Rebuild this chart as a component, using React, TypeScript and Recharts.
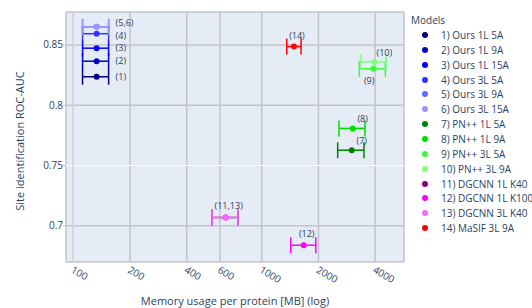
import React from 'react';
import { ScatterChart, Scatter, XAxis, YAxis, CartesianGrid, ErrorBar, ReferenceLine, Legend } from 'recharts';

const models = [
  '1) Ours 1L 5A', '2) Ours 1L 9A', '3) Ours 1L 15A', '4) Ours 3L 5A', '5) Ours 3L 9A',
  '6) Ours 3L 15A', '7) PN++ 1L 5A', '8) PN++ 1L 9A', '9) PN++ 3L 5A', '10) PN++ 3L 9A',
  '11) DGCNN 1L K40', '12) DGCNN 1L K100', '13) DGCNN 3L K40', '14) MaSIF 3L 9A',
];
const colors = [
  '#000080', '#0000c0', '#0000ff', '#3333ff', '#6666ff', '#9999ff', '#008000',
  '#00dd00', '#33ff33', '#80ff80', '#800080', '#ff00ff', '#ff66ff', '#ff0000',
];
// memory per protein [MB]: mean, lower, upper
const memory = [133, 133, 133, 133, 133, 133, 3005, 3040, 3905, 3960, 644, 1671, 644, 1483];
const memLow = [112, 112, 112, 112, 112, 112, 2530, 2570, 3297, 3350, 545, 1426, 545, 1358];
const memHigh = [154, 154, 154, 154, 154, 154, 3490, 3530, 4530, 4575, 748, 1936, 748, 1618];
const auc = [0.8236, 0.8365, 0.8473, 0.8593, 0.865, 0.865, 0.7627, 0.7808, 0.8302, 0.8359, 0.7069, 0.6839, 0.7069, 0.8486];
const labels = ['(1)', '(2)', '(3)', '(4)', '', '(5,6)', '(7)', '(8)', '(9)', '(10)', '', '(12)', '(11,13)', '(14)'];
const labelPlace = ['right', 'right', 'right', 'rightdown', 'rightup', 'rightup', 'topright', 'topright', 'bottom', 'topright', 'top', 'top', 'top', 'top'];

const xTicks = [100, 200, 400, 600, 800, 1000, 2000, 4000];
const yTicks = [0.7, 0.75, 0.8, 0.85];

const FONT = '"Open Sans", verdana, arial, sans-serif';
const INK = '#2a3f5f';

const rows = models.map((m, i) => ({
  name: m,
  x: memory[i],
  y: auc[i],
  err: [memory[i] - memLow[i], memHigh[i] - memory[i]],
  label: labels[i],
  place: labelPlace[i],
}));

const Marker = (props: any) => {
  const { cx, cy, fill, payload } = props;
  let tx = cx, ty = cy + 3.2, anchor = 'middle';
  if (payload.place === 'right') { tx = cx + 19; anchor = 'start'; }
  if (payload.place === 'rightup') { tx = cx + 19; ty = cy - 0.5; anchor = 'start'; }
  if (payload.place === 'rightdown') { tx = cx + 19; ty = cy + 5.5; anchor = 'start'; }
  if (payload.place === 'top') { tx = cx + 3; ty = cy - 8; }
  if (payload.place === 'topright') { tx = cx + 10; ty = cy - 6; }
  if (payload.place === 'bottom') { tx = cx - 4; ty = cy + 15; }
  return (
    <g>
      <circle cx={cx} cy={cy} r={3} fill={fill} />
      {payload.label && (
        <text x={tx} y={ty} textAnchor={anchor} fontSize={9} fontFamily={FONT} fill={INK}>{payload.label}</text>
      )}
    </g>
  );
};

const XTick = ({ x, y, payload }: any) => (
  <text x={x - 3} y={y + 10} transform={`rotate(30 ${x - 3} ${y + 10})`} textAnchor="start" fontSize={10} fontFamily={FONT} fill={INK}>
    {payload.value}
  </text>
);

const LegendBox = () => (
  <div style={{ position: 'relative', width: 127, height: 240, fontFamily: FONT, fontSize: 10, color: INK, whiteSpace: 'nowrap', overflow: 'hidden' }}>
    <div style={{ position: 'absolute', left: 6, top: 13, lineHeight: '14px' }}>Models</div>
    {models.map((m, i) => (
      <div key={m} style={{ position: 'absolute', left: 0, top: 28 + i * 14.86, height: 14, lineHeight: '14px' }}>
        <span style={{ position: 'absolute', left: 17, top: 4, width: 6, height: 6, borderRadius: 3, background: colors[i] }} />
        <span style={{ position: 'absolute', left: 36, top: 0 }}>{m}</span>
      </div>
    ))}
  </div>
);

export default function App() {
  return (
    <div style={{ position: 'absolute', left: 0, top: 0, width: 532, height: 308, background: '#fff', overflow: 'hidden' }}>
      <ScatterChart width={532} height={308} margin={{ top: 12, right: 128, bottom: 0, left: 0 }}>
        <CartesianGrid fill="#e5ecf6" stroke="#c4c4c8" strokeWidth={1.5} />
        <ReferenceLine y={0.75} stroke="#ffffff" strokeWidth={1.5} />
        <ReferenceLine x={100} stroke="#d2d8e0" strokeWidth={1.5} />
        <XAxis
          type="number"
          dataKey="x"
          scale="log"
          domain={[91.5, 5690]}
          allowDataOverflow
          ticks={xTicks}
          tick={<XTick />}
          tickLine={false}
          axisLine={false}
          tickSize={0}
          tickMargin={0}
          height={46}
          label={{
            content: ({ viewBox }: any) => (
              <text x={viewBox.x + viewBox.width / 2} y={viewBox.y + 43} textAnchor="middle" fontSize={11} fontFamily={FONT} fill={INK}>
                Memory usage per protein [MB] (log)
              </text>
            ),
          }}
        />
        <YAxis
          type="number"
          dataKey="y"
          domain={[0.67, 0.8773]}
          allowDataOverflow
          ticks={yTicks}
          tickFormatter={(v: number) => String(v)}
          tick={{ fontSize: 10, fontFamily: FONT, fill: INK }}
          tickLine={{ stroke: '#c4c4c8' }}
          tickSize={3}
          tickMargin={0}
          axisLine={false}
          width={66}
          label={{
            content: ({ viewBox }: any) => {
              const cx = 21;
              const cy = viewBox.y + viewBox.height / 2 + 4;
              return (
                <text x={cx} y={cy} transform={`rotate(-90 ${cx} ${cy})`} textAnchor="middle" dominantBaseline="middle" fontSize={11} fontFamily={FONT} fill={INK}>
                  Site identification ROC-AUC
                </text>
              );
            },
          }}
        />
        {rows.map((r, i) => (
          <Scatter key={r.name} name={r.name} data={[r]} fill={colors[i]} shape={<Marker />} isAnimationActive={false}>
            <ErrorBar dataKey="err" direction="x" width={8} stroke={colors[i]} strokeWidth={1.5} isAnimationActive={false} />
          </Scatter>
        ))}
        <Legend
          layout="horizontal"
          verticalAlign="middle"
          content={<LegendBox />}
          wrapperStyle={{ left: 405, top: 0, width: 127, height: 240 }}
        />
      </ScatterChart>
    </div>
  );
}
